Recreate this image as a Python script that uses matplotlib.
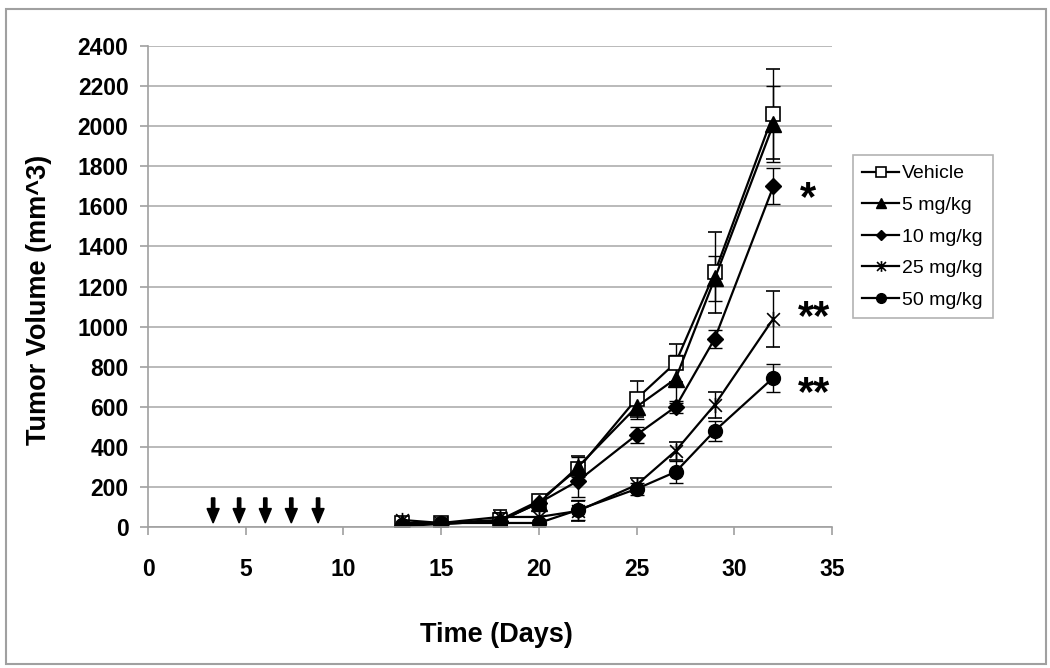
import numpy as np
import matplotlib.pyplot as plt
from matplotlib.path import Path
from matplotlib.patches import Rectangle

###############################
# data
###############################
days = [13, 15, 18, 20, 22, 25, 27, 29, 32]

vehicle = [20, 20, 35, 130, 290, 640, 820, 1270, 2060]
mg5 = [20, 15, 30, 120, 300, 600, 740, 1240, 2010]
mg10 = [5, 15, 30, 120, 230, 460, 600, 940, 1700]
mg25 = [35, 20, 50, 50, 80, 210, 380, 610, 1040]
mg50 = [10, 20, 20, 20, 85, 190, 275, 480, 745]

vehicle_err = [15, 15, 50, 30, 65, 90, 95, 200, 225]
mg5_err = [10, 10, 30, 30, 50, 60, 120, 110, 190]
mg10_err = [10, 10, 20, 30, 80, 40, 30, 45, 90]
mg25_err = [15, 10, 20, 30, 50, 35, 45, 65, 140]
mg50_err = [10, 10, 15, 15, 50, 30, 55, 50, 70]

dose_days = [3.33, 4.66, 6.0, 7.33, 8.7]

labels = ['Vehicle', '5 mg/kg', '10 mg/kg', '25 mg/kg', '50 mg/kg']

###############################
# styles
###############################
# Excel-style "star" marker: an X with a vertical bar
star = Path([(-1, -1), (1, 1), (-1, 1), (1, -1), (0, -1.2), (0, 1.2)],
            [Path.MOVETO, Path.LINETO, Path.MOVETO, Path.LINETO, Path.MOVETO, Path.LINETO])

plt.rcParams['font.family'] = ['Liberation Sans', 'DejaVu Sans']

fig = plt.figure(figsize=(10.5, 6.68), dpi=100)
ax = fig.add_axes([0.141, 0.2111, 0.6514, 0.720])

series = [
    (vehicle, vehicle_err, dict(marker='s', mfc='white', mec='black', ms=10, mew=1.2)),
    (mg5, mg5_err, dict(marker='^', mfc='black', mec='black', ms=11)),
    (mg10, mg10_err, dict(marker='D', mfc='black', mec='black', ms=8)),
    (mg25, mg25_err, dict(marker=star, mfc='none', mec='black', ms=11, mew=1.2)),
    (mg50, mg50_err, dict(marker='o', mfc='black', mec='black', ms=10)),
]

handles = []
for (vals, err, mk), lab in zip(series, labels):
    c = ax.errorbar(days, vals, yerr=err, color='black', lw=1.6, elinewidth=1,
                    capsize=5, capthick=1, label=lab, **mk)
    handles.append(c[0])

# dosing arrows
for d in dose_days:
    ax.arrow(d, 145, 0, -125, width=0.17, head_width=0.62, head_length=72,
             length_includes_head=True, color='black')

ax.text(33.75, 1635, '*', fontsize=30, fontweight='bold', ha='center', va='center')
ax.text(34.1, 1040, '**', fontsize=30, fontweight='bold', ha='center', va='center')
ax.text(34.1, 665, '**', fontsize=30, fontweight='bold', ha='center', va='center')

ax.set_xlim(0, 35)
ax.set_ylim(0, 2400)
ax.set_xticks(range(0, 36, 5))
ax.set_yticks(range(0, 2401, 200))
ax.yaxis.grid(True, color='#b4b4b4', lw=1.3)
ax.set_axisbelow(True)
for s in ['top', 'right']:
    ax.spines[s].set_visible(False)
for s in ['left', 'bottom']:
    ax.spines[s].set_color('#a0a0a0')
    ax.spines[s].set_linewidth(1.2)
ax.tick_params(axis='both', colors='#a0a0a0', length=6, width=1.2, direction='out')
ax.tick_params(axis='x', pad=16, labelsize=16.5, labelcolor='black')
ax.tick_params(axis='y', pad=8, labelsize=16.5, labelcolor='black')
for t in ax.get_xticklabels() + ax.get_yticklabels():
    t.set_fontweight('bold')

ax.set_xlabel('Time (Days)', fontsize=19.5, fontweight='bold')
ax.set_ylabel('Tumor Volume (mm^3)', fontsize=19.5, fontweight='bold')
ax.xaxis.set_label_coords(0.51, -0.197)
ax.yaxis.set_label_coords(-0.14, 0.472)

leg = fig.legend(handles=handles, labels=labels, loc='upper left',
                 bbox_to_anchor=(0.812, 0.768), borderaxespad=0, fontsize=14,
                 frameon=True, fancybox=False, edgecolor='#a0a0a0', borderpad=0.5,
                 handlelength=1.9, handletextpad=0.15, labelspacing=0.72,
                 markerscale=0.7)
leg.get_frame().set_linewidth(1.2)

fig.patches.append(Rectangle((6 / 1050, 4 / 668), 1040 / 1050, 655 / 668,
                             transform=fig.transFigure, fill=False,
                             edgecolor='#a0a0a0', lw=1.5))

plt.savefig('out.png', dpi=100)
